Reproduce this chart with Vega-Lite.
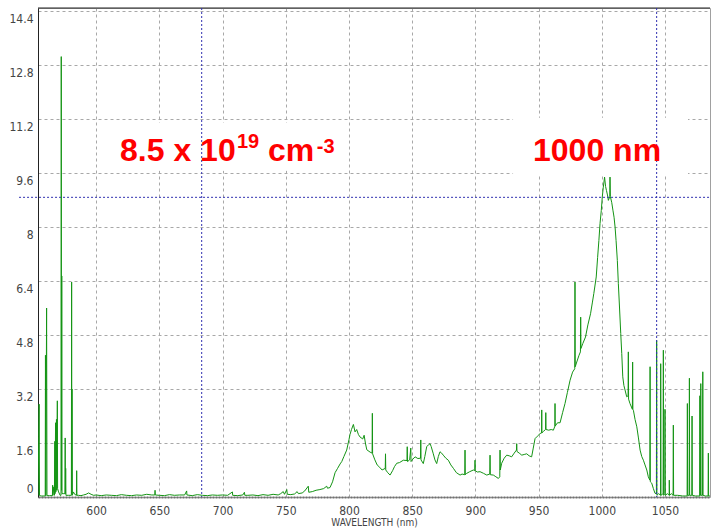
{
  "$schema": "https://vega.github.io/schema/vega-lite/v6.json",
  "width": 672,
  "height": 489,
  "autosize": {"type": "none"},
  "padding": {"left": 38, "top": 8, "right": 12, "bottom": 31},
  "background": "white",
  "config": {
    "view": {"stroke": "#a0a0a0", "strokeWidth": 1},
    "axisX": {
      "grid": true, "gridColor": "#a8a8a8", "gridDash": [3, 3], "gridWidth": 1,
      "ticks": false, "labelPadding": 8,
      "labelFont": "Liberation Sans Narrow, DejaVu Sans Condensed, Liberation Sans",
      "labelFontSize": 12, "labelColor": "#444444",
      "domainColor": "#707070", "domainDash": [2, 1], "domainWidth": 2,
      "titleFont": "Liberation Sans Narrow, DejaVu Sans Condensed, Liberation Sans",
      "titleFontSize": 10, "titleFontWeight": "normal", "titleColor": "#444444",
      "titlePadding": 1
    },
    "axisY": {
      "grid": true, "gridColor": "#a8a8a8", "gridDash": [3, 3], "gridWidth": 1,
      "ticks": false, "labelPadding": 5,
      "labelFont": "Liberation Sans Narrow, DejaVu Sans Condensed, Liberation Sans",
      "labelFontSize": 12, "labelColor": "#444444",
      "domainColor": "#222222", "domainWidth": 1
    }
  },
  "datasets": {
    "spectrum": [
      {"wl": 554.0, "v": 0.05}, {"wl": 554.6, "v": 1.8}, {"wl": 554.9, "v": 2.75}, {"wl": 555.2, "v": 0.04},
      {"wl": 557.0, "v": 0.03}, {"wl": 559.7, "v": 0.03}, {"wl": 559.9, "v": 4.2}, {"wl": 560.2, "v": 0.04},
      {"wl": 560.8, "v": 5.6}, {"wl": 561.1, "v": 0.04}, {"wl": 563.0, "v": 0.04}, {"wl": 565.4, "v": 0.04},
      {"wl": 565.6, "v": 0.35}, {"wl": 565.8, "v": 0.05}, {"wl": 566.5, "v": 0.3}, {"wl": 567.0, "v": 0.05},
      {"wl": 567.3, "v": 1.65}, {"wl": 567.5, "v": 0.1}, {"wl": 567.9, "v": 2.2}, {"wl": 568.1, "v": 0.15},
      {"wl": 568.6, "v": 2.3}, {"wl": 568.8, "v": 0.2}, {"wl": 569.3, "v": 2.85}, {"wl": 569.5, "v": 0.25},
      {"wl": 570.3, "v": 0.15}, {"wl": 571.5, "v": 0.05}, {"wl": 572.2, "v": 0.05}, {"wl": 572.4, "v": 13.05},
      {"wl": 572.6, "v": 0.2}, {"wl": 572.8, "v": 6.55}, {"wl": 573.0, "v": 0.1}, {"wl": 574.0, "v": 0.1},
      {"wl": 575.3, "v": 0.1}, {"wl": 575.5, "v": 1.75}, {"wl": 575.7, "v": 0.1}, {"wl": 575.9, "v": 0.85},
      {"wl": 576.1, "v": 0.05}, {"wl": 578.0, "v": 0.05}, {"wl": 580.4, "v": 0.05}, {"wl": 580.6, "v": 6.37},
      {"wl": 580.8, "v": 0.1}, {"wl": 580.9, "v": 3.2}, {"wl": 581.1, "v": 0.05}, {"wl": 582.0, "v": 0.15},
      {"wl": 583.0, "v": 0.08}, {"wl": 584.4, "v": 0.05}, {"wl": 584.6, "v": 0.78}, {"wl": 584.8, "v": 0.05},
      {"wl": 586, "v": 0.05}, {"wl": 588, "v": 0.04}, {"wl": 590, "v": 0.06}, {"wl": 592, "v": 0.08},
      {"wl": 594, "v": 0.12}, {"wl": 596, "v": 0.08}, {"wl": 598, "v": 0.05}, {"wl": 600, "v": 0.06},
      {"wl": 604, "v": 0.04}, {"wl": 608, "v": 0.06}, {"wl": 612, "v": 0.05}, {"wl": 616, "v": 0.04},
      {"wl": 620, "v": 0.07}, {"wl": 624, "v": 0.05}, {"wl": 628, "v": 0.04}, {"wl": 632, "v": 0.06},
      {"wl": 636, "v": 0.05}, {"wl": 640, "v": 0.08}, {"wl": 644, "v": 0.06}, {"wl": 646.4, "v": 0.06},
      {"wl": 646.6, "v": 0.2}, {"wl": 646.8, "v": 0.06}, {"wl": 650, "v": 0.05}, {"wl": 654, "v": 0.04},
      {"wl": 658, "v": 0.07}, {"wl": 662, "v": 0.05}, {"wl": 666, "v": 0.06}, {"wl": 670, "v": 0.06},
      {"wl": 671.6, "v": 0.18}, {"wl": 671.8, "v": 0.06}, {"wl": 676, "v": 0.04}, {"wl": 680, "v": 0.07},
      {"wl": 684, "v": 0.05}, {"wl": 688, "v": 0.04}, {"wl": 692, "v": 0.06}, {"wl": 696, "v": 0.05},
      {"wl": 700, "v": 0.06}, {"wl": 704, "v": 0.05}, {"wl": 707.8, "v": 0.15}, {"wl": 708, "v": 0.05},
      {"wl": 712, "v": 0.04}, {"wl": 716, "v": 0.06}, {"wl": 717.3, "v": 0.14}, {"wl": 717.6, "v": 0.05},
      {"wl": 720, "v": 0.05}, {"wl": 724, "v": 0.06}, {"wl": 728, "v": 0.04}, {"wl": 732, "v": 0.07},
      {"wl": 736, "v": 0.05}, {"wl": 740, "v": 0.08}, {"wl": 744, "v": 0.06}, {"wl": 746, "v": 0.1},
      {"wl": 748, "v": 0.16}, {"wl": 749, "v": 0.08}, {"wl": 750.8, "v": 0.22}, {"wl": 751.2, "v": 0.08},
      {"wl": 754, "v": 0.07}, {"wl": 757, "v": 0.09}, {"wl": 759, "v": 0.16}, {"wl": 760, "v": 0.1},
      {"wl": 763, "v": 0.12}, {"wl": 765, "v": 0.18}, {"wl": 767.8, "v": 0.32}, {"wl": 768.2, "v": 0.14},
      {"wl": 771, "v": 0.16}, {"wl": 774, "v": 0.2}, {"wl": 777, "v": 0.22}, {"wl": 780, "v": 0.25},
      {"wl": 782.4, "v": 0.32}, {"wl": 783, "v": 0.26}, {"wl": 785, "v": 0.28}, {"wl": 787, "v": 0.45},
      {"wl": 789, "v": 0.72}, {"wl": 791, "v": 0.85}, {"wl": 793, "v": 0.98}, {"wl": 794.3, "v": 1.05},
      {"wl": 796, "v": 1.2}, {"wl": 798.2, "v": 1.39}, {"wl": 800, "v": 1.7}, {"wl": 800.8, "v": 1.85},
      {"wl": 802, "v": 2.0}, {"wl": 803.5, "v": 2.15}, {"wl": 804.8, "v": 1.93}, {"wl": 806.1, "v": 2.0},
      {"wl": 807.5, "v": 1.85}, {"wl": 808.7, "v": 1.78}, {"wl": 810.9, "v": 1.72}, {"wl": 812, "v": 1.83},
      {"wl": 813, "v": 1.6}, {"wl": 814.1, "v": 1.4}, {"wl": 816.7, "v": 1.33}, {"wl": 818.3, "v": 1.3},
      {"wl": 818.5, "v": 2.48}, {"wl": 818.7, "v": 1.28}, {"wl": 820.5, "v": 1.1}, {"wl": 822.3, "v": 0.95},
      {"wl": 824.3, "v": 0.88}, {"wl": 826.2, "v": 0.8}, {"wl": 828.7, "v": 0.85}, {"wl": 828.9, "v": 1.28},
      {"wl": 829.1, "v": 0.8}, {"wl": 830.7, "v": 0.72}, {"wl": 832.5, "v": 0.65}, {"wl": 834.5, "v": 0.78},
      {"wl": 836, "v": 0.9}, {"wl": 837.8, "v": 1.0}, {"wl": 840, "v": 1.02}, {"wl": 843, "v": 1.09},
      {"wl": 845.9, "v": 1.08}, {"wl": 846.1, "v": 1.49}, {"wl": 846.3, "v": 1.05}, {"wl": 848, "v": 1.1},
      {"wl": 848.9, "v": 1.45}, {"wl": 849.1, "v": 1.05}, {"wl": 850.5, "v": 1.12}, {"wl": 852.3, "v": 1.19},
      {"wl": 854.5, "v": 1.14}, {"wl": 856.6, "v": 1.15}, {"wl": 856.8, "v": 1.69}, {"wl": 857, "v": 1.1},
      {"wl": 858.8, "v": 0.99}, {"wl": 860, "v": 1.2}, {"wl": 861.5, "v": 1.49}, {"wl": 863, "v": 1.55},
      {"wl": 864.1, "v": 1.58}, {"wl": 865, "v": 1.5}, {"wl": 866.7, "v": 1.28}, {"wl": 868, "v": 1.1},
      {"wl": 869.4, "v": 0.99}, {"wl": 870.7, "v": 1.2}, {"wl": 872, "v": 1.34}, {"wl": 873.3, "v": 1.3},
      {"wl": 874.6, "v": 1.24}, {"wl": 876.6, "v": 1.15}, {"wl": 878.6, "v": 1.09}, {"wl": 880.6, "v": 0.95},
      {"wl": 882.6, "v": 0.85}, {"wl": 885, "v": 0.72}, {"wl": 887.9, "v": 0.65}, {"wl": 889.5, "v": 0.68},
      {"wl": 891.6, "v": 0.66}, {"wl": 891.8, "v": 1.39}, {"wl": 892, "v": 0.66}, {"wl": 893.1, "v": 0.7},
      {"wl": 895.5, "v": 0.75}, {"wl": 898.4, "v": 0.8}, {"wl": 899.5, "v": 0.78}, {"wl": 899.7, "v": 1.09},
      {"wl": 899.9, "v": 0.78}, {"wl": 901.5, "v": 0.74}, {"wl": 903.7, "v": 0.75}, {"wl": 906.5, "v": 0.7},
      {"wl": 909, "v": 0.65}, {"wl": 911.4, "v": 0.68}, {"wl": 911.6, "v": 1.24}, {"wl": 911.8, "v": 0.66},
      {"wl": 914.2, "v": 0.65}, {"wl": 916.2, "v": 0.6}, {"wl": 918.2, "v": 0.55}, {"wl": 919.3, "v": 0.6},
      {"wl": 919.5, "v": 1.39}, {"wl": 919.7, "v": 0.8}, {"wl": 920.8, "v": 1.0}, {"wl": 922.8, "v": 1.15},
      {"wl": 924.8, "v": 1.24}, {"wl": 926.8, "v": 1.22}, {"wl": 928.7, "v": 1.19}, {"wl": 930.7, "v": 1.3},
      {"wl": 932.5, "v": 1.39}, {"wl": 932.7, "v": 1.58}, {"wl": 932.9, "v": 1.35}, {"wl": 934.7, "v": 1.3},
      {"wl": 936.7, "v": 1.24}, {"wl": 938.6, "v": 1.26}, {"wl": 940.6, "v": 1.28}, {"wl": 942.5, "v": 1.22},
      {"wl": 944.5, "v": 1.19}, {"wl": 945.8, "v": 1.45}, {"wl": 947.2, "v": 1.73}, {"wl": 949, "v": 1.8},
      {"wl": 951.2, "v": 1.88}, {"wl": 952.4, "v": 1.9}, {"wl": 952.5, "v": 2.58}, {"wl": 952.6, "v": 1.9},
      {"wl": 954, "v": 1.95}, {"wl": 955.5, "v": 2.0}, {"wl": 955.7, "v": 2.5}, {"wl": 955.9, "v": 2.0},
      {"wl": 958, "v": 1.98}, {"wl": 960, "v": 2.0}, {"wl": 961.7, "v": 1.98}, {"wl": 962.9, "v": 2.1},
      {"wl": 963, "v": 2.77}, {"wl": 963.1, "v": 2.1}, {"wl": 965, "v": 2.2}, {"wl": 967, "v": 2.2},
      {"wl": 969, "v": 2.5}, {"wl": 970.9, "v": 2.77}, {"wl": 972.8, "v": 3.1}, {"wl": 974.9, "v": 3.46},
      {"wl": 976.9, "v": 3.7}, {"wl": 978.6, "v": 3.8}, {"wl": 978.8, "v": 6.37}, {"wl": 979.0, "v": 3.86},
      {"wl": 980.2, "v": 4.0}, {"wl": 982, "v": 4.2}, {"wl": 983.1, "v": 4.3}, {"wl": 983.3, "v": 5.33},
      {"wl": 983.5, "v": 4.4}, {"wl": 985, "v": 4.55}, {"wl": 987.1, "v": 4.74}, {"wl": 989, "v": 5.1},
      {"wl": 991.1, "v": 5.43}, {"wl": 992.5, "v": 5.75}, {"wl": 993.7, "v": 6.03}, {"wl": 995.6, "v": 6.52},
      {"wl": 996.7, "v": 7.1}, {"wl": 997.7, "v": 7.6}, {"wl": 998.6, "v": 8.1}, {"wl": 999.6, "v": 8.49},
      {"wl": 1000.4, "v": 8.9}, {"wl": 1001.2, "v": 9.18}, {"wl": 1002.2, "v": 9.48}, {"wl": 1003, "v": 9.2},
      {"wl": 1003.7, "v": 9.08}, {"wl": 1004.5, "v": 8.95}, {"wl": 1005.2, "v": 8.79}, {"wl": 1006.3, "v": 8.9},
      {"wl": 1006.5, "v": 9.48}, {"wl": 1006.8, "v": 8.9}, {"wl": 1007.9, "v": 8.72}, {"wl": 1008.8, "v": 8.5},
      {"wl": 1009.7, "v": 8.29}, {"wl": 1010.5, "v": 8.0}, {"wl": 1011.3, "v": 7.6}, {"wl": 1012.3, "v": 7.01},
      {"wl": 1013.1, "v": 6.32}, {"wl": 1014, "v": 5.63}, {"wl": 1015, "v": 4.84}, {"wl": 1015.8, "v": 4.25},
      {"wl": 1016.6, "v": 3.56}, {"wl": 1017.5, "v": 3.3}, {"wl": 1018.4, "v": 3.17}, {"wl": 1019.7, "v": 2.97},
      {"wl": 1020.8, "v": 3.0}, {"wl": 1021, "v": 4.3}, {"wl": 1021.2, "v": 2.9}, {"wl": 1022.3, "v": 2.77},
      {"wl": 1024.2, "v": 2.6}, {"wl": 1024.4, "v": 4.0}, {"wl": 1024.6, "v": 2.6}, {"wl": 1025, "v": 2.57},
      {"wl": 1026.3, "v": 2.3}, {"wl": 1027.7, "v": 2.08}, {"wl": 1029, "v": 1.75}, {"wl": 1030.3, "v": 1.39},
      {"wl": 1031.6, "v": 1.2}, {"wl": 1032.9, "v": 1.09}, {"wl": 1034.2, "v": 0.95}, {"wl": 1035.6, "v": 0.8},
      {"wl": 1036.8, "v": 0.6}, {"wl": 1038, "v": 0.5}, {"wl": 1038.2, "v": 3.86}, {"wl": 1038.4, "v": 0.45},
      {"wl": 1039.5, "v": 0.41}, {"wl": 1040.8, "v": 0.25}, {"wl": 1042.1, "v": 0.11}, {"wl": 1043.2, "v": 0.1},
      {"wl": 1043.4, "v": 4.64}, {"wl": 1043.6, "v": 0.05}, {"wl": 1045, "v": 0.1}, {"wl": 1046.5, "v": 0.05},
      {"wl": 1046.6, "v": 3.95}, {"wl": 1046.8, "v": 0.05}, {"wl": 1048.5, "v": 0.1}, {"wl": 1048.7, "v": 4.35},
      {"wl": 1048.9, "v": 0.05}, {"wl": 1049.9, "v": 0.1}, {"wl": 1050, "v": 2.6}, {"wl": 1050.2, "v": 0.05},
      {"wl": 1052, "v": 0.1}, {"wl": 1053.3, "v": 0.05}, {"wl": 1053.4, "v": 0.5}, {"wl": 1053.6, "v": 0.05},
      {"wl": 1055, "v": 0.1}, {"wl": 1056.4, "v": 0.05}, {"wl": 1056.6, "v": 2.13}, {"wl": 1056.8, "v": 0.05},
      {"wl": 1060, "v": 0.05}, {"wl": 1064, "v": 0.03}, {"wl": 1067.5, "v": 0.03}, {"wl": 1067.7, "v": 2.77},
      {"wl": 1067.9, "v": 0.05}, {"wl": 1069.1, "v": 0.05}, {"wl": 1069.3, "v": 3.52}, {"wl": 1069.5, "v": 0.05},
      {"wl": 1071.2, "v": 0.05}, {"wl": 1071.4, "v": 2.4}, {"wl": 1071.6, "v": 0.05}, {"wl": 1074, "v": 0.03},
      {"wl": 1077.4, "v": 0.03}, {"wl": 1077.6, "v": 3.0}, {"wl": 1077.8, "v": 0.05}, {"wl": 1078.1, "v": 0.05},
      {"wl": 1078.3, "v": 3.36}, {"wl": 1078.5, "v": 0.05}, {"wl": 1079.7, "v": 0.05}, {"wl": 1079.9, "v": 3.71},
      {"wl": 1080.1, "v": 0.05}, {"wl": 1082, "v": 0.03}, {"wl": 1084.1, "v": 0.03}, {"wl": 1084.3, "v": 1.3},
      {"wl": 1084.5, "v": 0.03}, {"wl": 1085.6, "v": 0.03}
    ]
  },
  "layer": [
    {
      "data": {"values": [
        {"x0": 607, "x1": 793, "y0": 9.67, "y1": 11.09},
        {"x0": 929.8, "x1": 1068.2, "y0": 9.53, "y1": 11.24}
      ]},
      "mark": {"type": "rect", "fill": "white"},
      "encoding": {
        "x": {
          "field": "x0", "type": "quantitative",
          "scale": {"domain": [554, 1085.6], "nice": false, "zero": false},
          "axis": {"title": "WAVELENGTH (nm)", "values": [600, 650, 700, 750, 800, 850, 900, 950, 1000, 1050], "format": "d"}
        },
        "x2": {"field": "x1"},
        "y": {
          "field": "y0", "type": "quantitative",
          "scale": {"domain": [0, 14.49], "nice": false, "zero": false},
          "axis": {
            "title": null,
            "values": [0, 1.6, 3.2, 4.8, 6.4, 8, 9.6, 11.2, 12.8, 14.4],
            "labelExpr": "format(datum.value, '.3~g')",
            "labelBaseline": {"condition": {"test": "datum.value == 0", "value": "bottom"}, "value": "top"},
            "labelOffset": {"condition": {"test": "datum.value == 0", "value": -2}, "value": 2}
          }
        },
        "y2": {"field": "y1"}
      }
    },
    {
      "data": {"values": [{"v": 14.49}]},
      "mark": {"type": "rule", "color": "#222222", "strokeWidth": 1},
      "encoding": {"y": {"field": "v", "type": "quantitative", "axis": {"title": null}}}
    },
    {
      "data": {"name": "spectrum"},
      "mark": {"type": "line", "color": "#149414", "strokeWidth": 1, "clip": true, "interpolate": "linear"},
      "encoding": {
        "x": {"field": "wl", "type": "quantitative", "axis": {"title": "WAVELENGTH (nm)"}},
        "y": {"field": "v", "type": "quantitative", "axis": {"title": null}}
      }
    },
    {
      "data": {"values": [{"wl": 683.5}, {"wl": 1043.4}]},
      "mark": {"type": "rule", "color": "#3030b0", "strokeDash": [2, 2], "strokeWidth": 1},
      "encoding": {"x": {"field": "wl", "type": "quantitative", "axis": {"title": "WAVELENGTH (nm)"}}}
    },
    {
      "data": {"values": [{"v": 8.88, "xa": 539, "xb": 1085.6}]},
      "mark": {"type": "rule", "color": "#3030b0", "strokeDash": [2, 2], "strokeWidth": 1, "clip": false},
      "encoding": {
        "x": {"field": "xa", "type": "quantitative", "axis": {"title": "WAVELENGTH (nm)"}},
        "x2": {"field": "xb"},
        "y": {"field": "v", "type": "quantitative", "axis": {"title": null}}
      }
    },
    {
      "data": {"values": [
        {"wl": 618.9, "v": 9.95, "t": "8.5 x 10"},
        {"wl": 736, "v": 9.95, "t": "cm"},
        {"wl": 945.6, "v": 9.97, "t": "1000 nm"}
      ]},
      "mark": {"type": "text", "align": "left", "baseline": "alphabetic", "font": "Liberation Sans", "fontWeight": "bold", "fontSize": 32, "color": "#ff0000"},
      "encoding": {
        "x": {"field": "wl", "type": "quantitative", "axis": {"title": "WAVELENGTH (nm)"}},
        "y": {"field": "v", "type": "quantitative", "axis": {"title": null}},
        "text": {"field": "t"}
      }
    },
    {
      "data": {"values": [
        {"wl": 711.4, "v": 10.33, "t": "19"},
        {"wl": 774.5, "v": 10.18, "t": "-3"}
      ]},
      "mark": {"type": "text", "align": "left", "baseline": "alphabetic", "font": "Liberation Sans", "fontWeight": "bold", "fontSize": 20, "color": "#ff0000"},
      "encoding": {
        "x": {"field": "wl", "type": "quantitative", "axis": {"title": "WAVELENGTH (nm)"}},
        "y": {"field": "v", "type": "quantitative", "axis": {"title": null}},
        "text": {"field": "t"}
      }
    }
  ]
}
